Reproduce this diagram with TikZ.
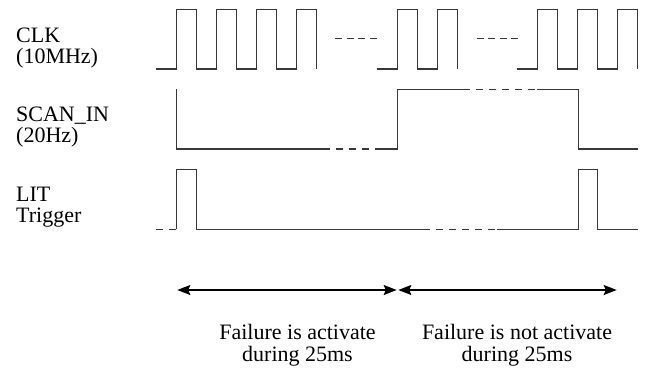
\documentclass[tikz,border=0pt]{standalone}
\usepackage{fontspec}
\setmainfont{Liberation Serif}
\usetikzlibrary{arrows.meta}
\begin{document}
\begin{tikzpicture}[x=1pt,y=-1pt,
  wave/.style={draw=black!78,line width=1.4pt,line join=miter},
  gapdash/.style={wave,dash pattern=on 6.5pt off 6.5pt},
  clkdash/.style={wave,dash pattern=on 7pt off 4.5pt},
  span/.style={draw=black,line width=1.3pt,{Stealth[length=13pt,width=10pt,inset=2pt]}-{Stealth[length=13pt,width=10pt,inset=2pt]}},
  sig/.style={anchor=base west,inner sep=0pt,align=left,
    font=\fontsize{22}{21}\selectfont},
  note/.style={anchor=base,inner sep=0pt,align=center,
    font=\fontsize{22}{22.5}\selectfont}]
\useasboundingbox (0,0) rectangle (646,368);

% signal names (positioned by the baseline of their last line)
\node[sig] (clk)  at (16,63)    {CLK\\(10MHz)};
\node[sig] (scan) at (16,142.7) {SCAN\_IN\\(20Hz)};
\node[sig] (lit)  at (16,222.7) {LIT\\Trigger};

% CLK: three bursts separated by gaps
\draw[wave] (156,69) foreach \x in {176.7,216.7,256.7,296.7}
  { -- (\x,69) -- (\x,9.5) -- (\x+20,9.5) -- (\x+20,69) };
\draw[clkdash] (335,38.3) -- (376.7,38.3);
\draw[wave] (377.3,69) foreach \x in {397.3,437.3}
  { -- (\x,69) -- (\x,9.5) -- (\x+20,9.5) -- (\x+20,69) };
\draw[clkdash] (476.7,38.3) -- (518.3,38.3);
\draw[wave] (517.3,69) foreach \x in {537.3,577.3,617.3}
  { -- (\x,69) -- (\x,9.5) -- (\x+20,9.5) -- (\x+20,69) };

% SCAN_IN: low half period, then high half period
\draw[wave] (176.7,89.3) -- (176.7,149) -- (323.3,149);
\draw[gapdash] (323.3,149) -- (375,149);
\draw[wave] (375,149) -- (397.3,149) -- (397.3,89.3) -- (463.3,89.3);
\draw[gapdash] (463.3,89.3) -- (536.7,89.3);
\draw[wave] (536.7,89.3) -- (578.3,89.3) -- (578.3,149) -- (638.3,149);

% LIT trigger pulses on each falling edge of SCAN_IN
\draw[gapdash] (156,229.3) -- (176.7,229.3);
\draw[wave] (176.7,229.3) -- (176.7,169.3) -- (196.7,169.3) -- (196.7,229.3) -- (423.3,229.3);
\draw[gapdash] (423.3,229.3) -- (496.7,229.3);
\draw[wave] (496.7,229.3) -- (578.3,229.3) -- (578.3,169.3) -- (597.3,169.3) -- (597.3,229.3) -- (638.3,229.3);

% phase spans
\coordinate (p0) at (177.3,290);
\coordinate (p1) at (396.7,290);
\coordinate (p2) at (398.3,290);
\coordinate (p3) at (616.7,290);
\draw[span] (p0) -- (p1);
\draw[span] (p2) -- (p3);

\node[note] (act)   at (297.5,361.5) {Failure is activate\\during 25ms};
\node[note] (noact) at (517,361.5)   {Failure is not activate\\during 25ms};
\end{tikzpicture}
\end{document}
